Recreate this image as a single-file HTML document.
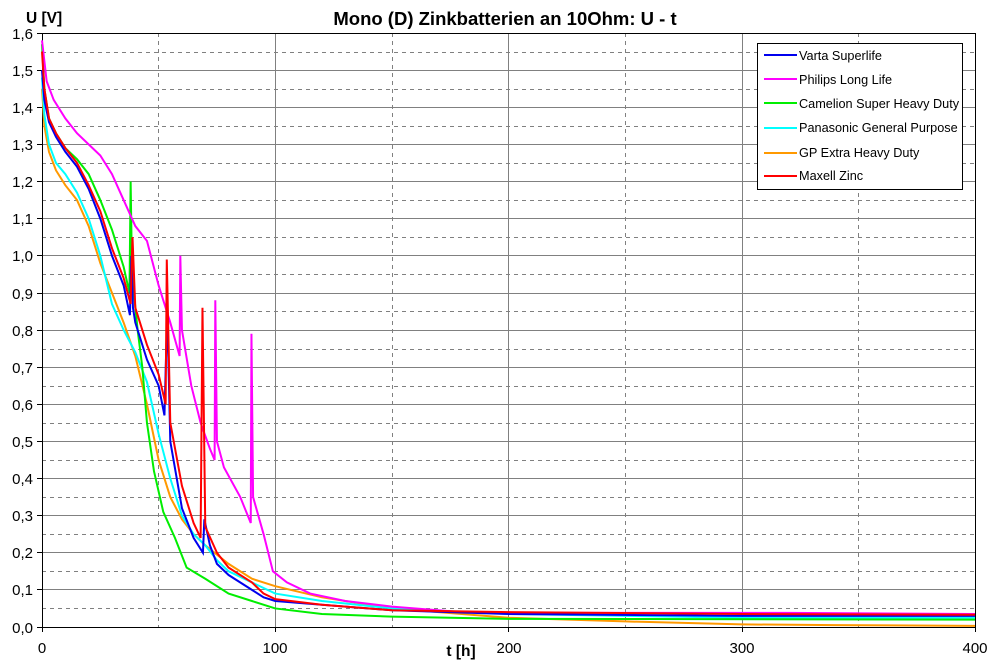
<!DOCTYPE html>
<html><head><meta charset="utf-8"><style>
html,body{margin:0;padding:0;background:#fff}
svg{display:block;font-family:"Liberation Sans",Arial,sans-serif}
.s{fill:none;stroke-width:2;vector-effect:non-scaling-stroke;stroke-linejoin:miter}
</style></head><body>
<svg width="994" height="667" viewBox="0 0 994 667" xmlns="http://www.w3.org/2000/svg">
<rect width="994" height="667" fill="#fff"/>
<g stroke="#808080" stroke-width="1" stroke-dasharray="4,4" shape-rendering="crispEdges">
<line x1="42" x2="975" y1="52.5" y2="52.5"/><line x1="42" x2="975" y1="89.5" y2="89.5"/><line x1="42" x2="975" y1="126.5" y2="126.5"/><line x1="42" x2="975" y1="163.5" y2="163.5"/><line x1="42" x2="975" y1="200.5" y2="200.5"/><line x1="42" x2="975" y1="237.5" y2="237.5"/><line x1="42" x2="975" y1="274.5" y2="274.5"/><line x1="42" x2="975" y1="311.5" y2="311.5"/><line x1="42" x2="975" y1="349.5" y2="349.5"/><line x1="42" x2="975" y1="386.5" y2="386.5"/><line x1="42" x2="975" y1="423.5" y2="423.5"/><line x1="42" x2="975" y1="460.5" y2="460.5"/><line x1="42" x2="975" y1="497.5" y2="497.5"/><line x1="42" x2="975" y1="534.5" y2="534.5"/><line x1="42" x2="975" y1="571.5" y2="571.5"/><line x1="42" x2="975" y1="608.5" y2="608.5"/>
<line x1="158.5" x2="158.5" y1="33" y2="627"/><line x1="392.5" x2="392.5" y1="33" y2="627"/><line x1="625.5" x2="625.5" y1="33" y2="627"/><line x1="858.5" x2="858.5" y1="33" y2="627"/>
</g>
<g stroke="#808080" stroke-width="1" shape-rendering="crispEdges">
<line x1="42" x2="975" y1="70.5" y2="70.5"/><line x1="42" x2="975" y1="107.5" y2="107.5"/><line x1="42" x2="975" y1="144.5" y2="144.5"/><line x1="42" x2="975" y1="181.5" y2="181.5"/><line x1="42" x2="975" y1="218.5" y2="218.5"/><line x1="42" x2="975" y1="255.5" y2="255.5"/><line x1="42" x2="975" y1="293.5" y2="293.5"/><line x1="42" x2="975" y1="330.5" y2="330.5"/><line x1="42" x2="975" y1="367.5" y2="367.5"/><line x1="42" x2="975" y1="404.5" y2="404.5"/><line x1="42" x2="975" y1="441.5" y2="441.5"/><line x1="42" x2="975" y1="478.5" y2="478.5"/><line x1="42" x2="975" y1="515.5" y2="515.5"/><line x1="42" x2="975" y1="552.5" y2="552.5"/><line x1="42" x2="975" y1="589.5" y2="589.5"/>
<line x1="275.5" x2="275.5" y1="33" y2="627"/><line x1="508.5" x2="508.5" y1="33" y2="627"/><line x1="742.5" x2="742.5" y1="33" y2="627"/>
</g>
<g stroke="#000" stroke-width="1" shape-rendering="crispEdges">
<line x1="42" x2="975.5" y1="33.5" y2="33.5"/><line x1="975.5" x2="975.5" y1="33" y2="627"/>
<line x1="42.5" x2="42.5" y1="33" y2="632"/><line x1="37" x2="975.5" y1="627.5" y2="627.5"/>
<line x1="37" x2="42" y1="33.5" y2="33.5"/><line x1="37" x2="42" y1="70.5" y2="70.5"/><line x1="37" x2="42" y1="107.5" y2="107.5"/><line x1="37" x2="42" y1="144.5" y2="144.5"/><line x1="37" x2="42" y1="181.5" y2="181.5"/><line x1="37" x2="42" y1="218.5" y2="218.5"/><line x1="37" x2="42" y1="255.5" y2="255.5"/><line x1="37" x2="42" y1="293.5" y2="293.5"/><line x1="37" x2="42" y1="330.5" y2="330.5"/><line x1="37" x2="42" y1="367.5" y2="367.5"/><line x1="37" x2="42" y1="404.5" y2="404.5"/><line x1="37" x2="42" y1="441.5" y2="441.5"/><line x1="37" x2="42" y1="478.5" y2="478.5"/><line x1="37" x2="42" y1="515.5" y2="515.5"/><line x1="37" x2="42" y1="552.5" y2="552.5"/><line x1="37" x2="42" y1="589.5" y2="589.5"/>
<line x1="275.5" x2="275.5" y1="627" y2="632"/><line x1="508.5" x2="508.5" y1="627" y2="632"/><line x1="742.5" x2="742.5" y1="627" y2="632"/><line x1="975.5" x2="975.5" y1="627" y2="632"/>
</g>
<g font-size="15" fill="#000" text-anchor="end">
<text x="33" y="39">1,6</text><text x="33" y="76">1,5</text><text x="33" y="113">1,4</text><text x="33" y="150">1,3</text><text x="33" y="187">1,2</text><text x="33" y="224">1,1</text><text x="33" y="261">1,0</text><text x="33" y="299">0,9</text><text x="33" y="336">0,8</text><text x="33" y="373">0,7</text><text x="33" y="410">0,6</text><text x="33" y="447">0,5</text><text x="33" y="484">0,4</text><text x="33" y="521">0,3</text><text x="33" y="558">0,2</text><text x="33" y="595">0,1</text><text x="33" y="633">0,0</text>
</g>
<g font-size="15" fill="#000" text-anchor="middle">
<text x="42" y="653">0</text><text x="275" y="653">100</text><text x="509" y="653">200</text><text x="742" y="653">300</text><text x="975" y="653">400</text>
</g>
<text x="505" y="25" font-size="18.5" font-weight="bold" text-anchor="middle">Mono (D) Zinkbatterien an 10Ohm: U - t</text>
<text x="26" y="23" font-size="15.5" font-weight="bold">U [V]</text>
<text x="461" y="656" font-size="15.5" font-weight="bold" text-anchor="middle">t [h]</text>
<g transform="translate(42,627) scale(2.3325,-371.25)">
<polyline class="s" stroke="#ff9900" points="0,1.45 1,1.35 3,1.28 6,1.23 10,1.19 15,1.15 20,1.08 25,0.98 30,0.9 35,0.82 40,0.73 45,0.6 50,0.45 55,0.35 60,0.29 65,0.25 70,0.22 80,0.17 90,0.13 100,0.11 120,0.08 150,0.05 200,0.025 250,0.015 300,0.007 340,0.005 400,0.003"/>
<polyline class="s" stroke="#00ffff" points="0,1.48 1,1.38 3,1.3 6,1.25 10,1.22 15,1.17 20,1.1 25,1.0 30,0.87 35,0.8 40,0.74 45,0.66 50,0.52 55,0.4 60,0.3 65,0.25 70,0.22 75,0.18 80,0.15 90,0.12 100,0.09 120,0.07 150,0.05 200,0.035 300,0.025 400,0.025"/>
<polyline class="s" stroke="#00ee00" points="0,1.57 1,1.45 3,1.37 6,1.33 10,1.29 15,1.26 20,1.22 25,1.15 30,1.07 35,0.97 37.5,0.9 38,1.2 38.6,0.95 41,0.8 43,0.7 45,0.55 48,0.42 52,0.31 57,0.24 62,0.16 70,0.13 80,0.09 90,0.07 100,0.05 120,0.035 150,0.028 200,0.022 400,0.02"/>
<polyline class="s" stroke="#ff00ff" points="0,1.58 2,1.47 5,1.42 10,1.37 15,1.33 20,1.3 25,1.27 30,1.22 35,1.15 40,1.08 45,1.04 50,0.92 55,0.82 59,0.73 59.3,1.0 60,0.8 64,0.65 68,0.55 72,0.48 74,0.45 74.3,0.88 75,0.5 78,0.43 85,0.35 89.5,0.28 89.8,0.79 90.5,0.35 95,0.25 99,0.15 105,0.12 115,0.09 130,0.07 150,0.055 180,0.04 200,0.038 320,0.038 400,0.035"/>
<polyline class="s" stroke="#0000ee" points="0,1.5 1,1.42 3,1.36 6,1.32 10,1.28 15,1.24 20,1.18 25,1.1 30,1.0 35,0.92 37.7,0.84 38.3,1.0 39,0.86 40,0.82 45,0.72 50,0.65 52.5,0.57 53.7,0.85 55,0.5 60,0.32 65,0.24 69,0.2 69.6,0.29 72,0.22 75,0.17 80,0.14 90,0.1 95,0.08 100,0.07 120,0.06 150,0.045 200,0.035 300,0.03 400,0.03"/>
<polyline class="s" stroke="#ff0000" points="0,1.55 1,1.45 3,1.37 6,1.33 10,1.29 15,1.25 20,1.19 25,1.12 30,1.02 35,0.94 38,0.87 38.8,1.05 40,0.86 45,0.76 50,0.68 53,0.6 53.5,0.99 55,0.55 60,0.38 65,0.28 68,0.24 68.8,0.86 70,0.27 75,0.2 80,0.16 90,0.12 95,0.09 100,0.075 120,0.06 150,0.045 200,0.04 300,0.035 400,0.033"/>
</g>
<rect x="757.5" y="43.5" width="205" height="146" fill="#fff" stroke="#000" stroke-width="1" shape-rendering="crispEdges"/>
<g stroke-width="2">
<line x1="764" x2="797" y1="55" y2="55" stroke="#0000ee"/>
<line x1="764" x2="797" y1="79" y2="79" stroke="#ff00ff"/>
<line x1="764" x2="797" y1="103" y2="103" stroke="#00ee00"/>
<line x1="764" x2="797" y1="128" y2="128" stroke="#00ffff"/>
<line x1="764" x2="797" y1="153" y2="153" stroke="#ff9900"/>
<line x1="764" x2="797" y1="176" y2="176" stroke="#ff0000"/>
</g>
<g font-size="12.7" fill="#000">
<text x="799" y="60">Varta Superlife</text>
<text x="799" y="84">Philips Long Life</text>
<text x="799" y="108">Camelion Super Heavy Duty</text>
<text x="799" y="132">Panasonic General Purpose</text>
<text x="799" y="157">GP Extra Heavy Duty</text>
<text x="799" y="180">Maxell Zinc</text>
</g>
</svg>
</body></html>
